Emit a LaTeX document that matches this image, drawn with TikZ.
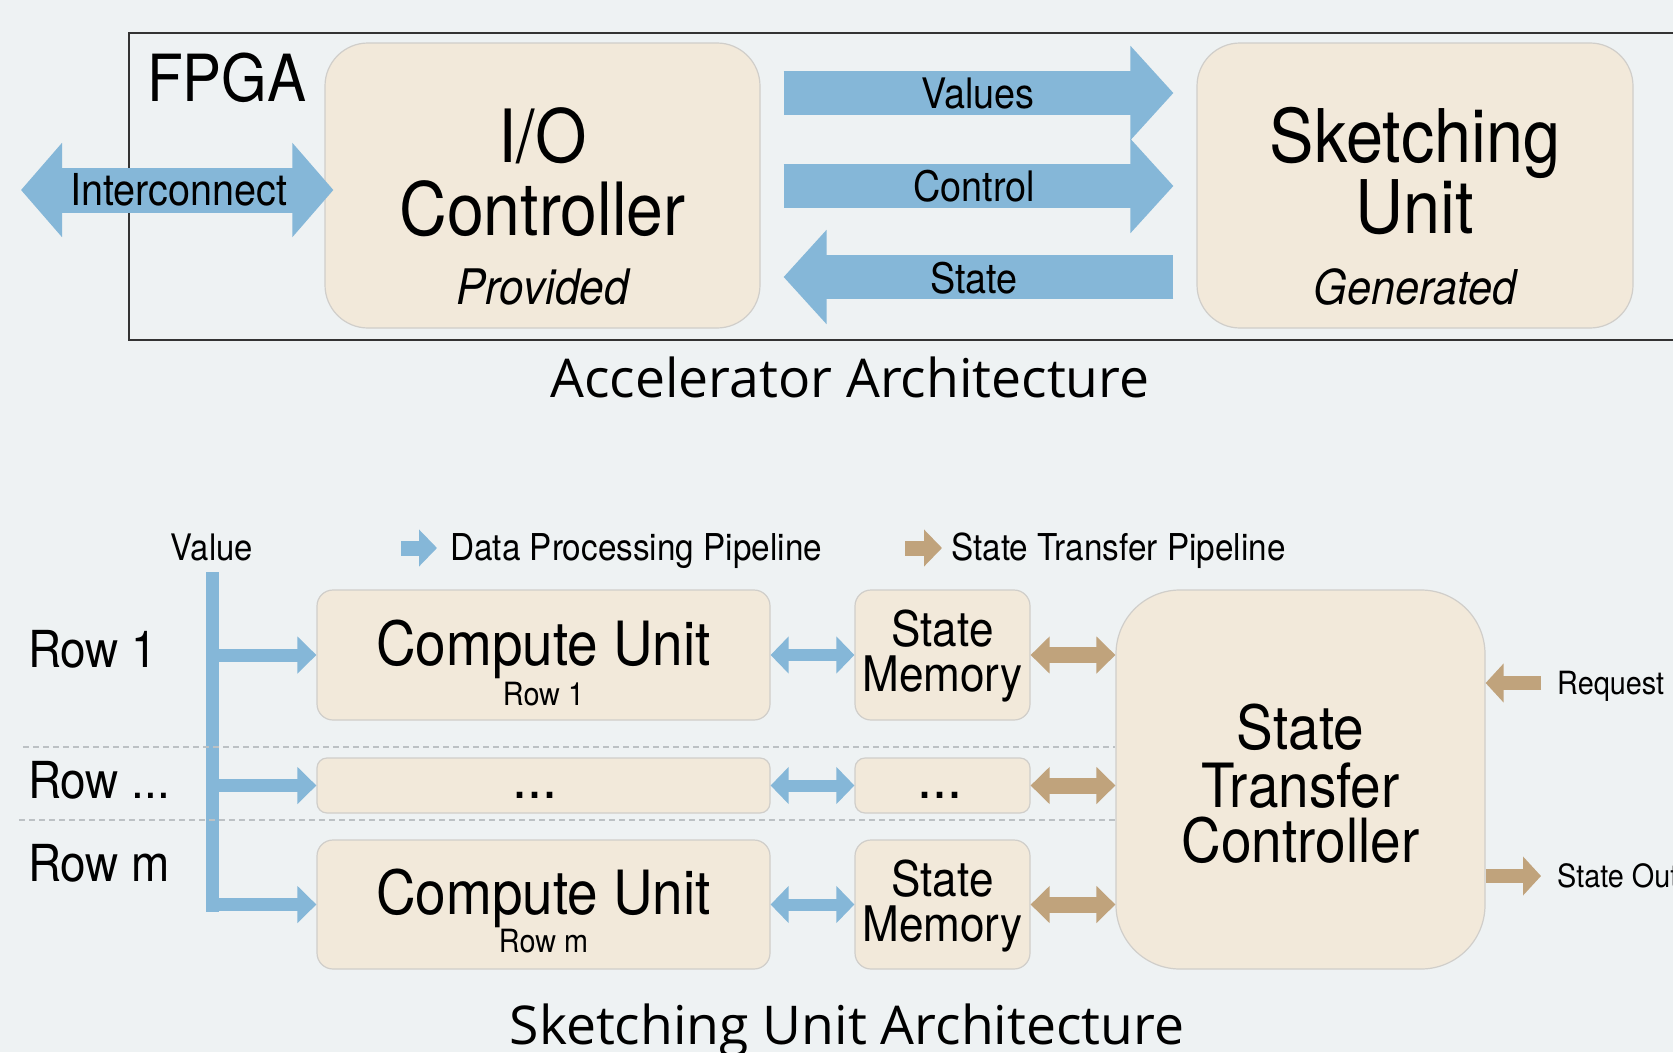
\documentclass[tikz,border=0pt]{standalone}
\usepackage{fontspec}
\setmainfont{TeX Gyre Heros}[FakeStretch=0.9]
\newfontfamily\titlefont{Open Sans}
\usetikzlibrary{arrows.meta,calc}
\definecolor{bg}{RGB}{238,242,243}
\definecolor{boxfill}{RGB}{242,233,218}
\definecolor{boxline}{RGB}{208,206,202}
\definecolor{pipeblue}{RGB}{133,183,216}
\definecolor{pipetan}{RGB}{192,163,124}
\definecolor{rowrule}{RGB}{188,193,196}
\newcommand{\setfs}[1]{\fontsize{#1}{#1}\selectfont}

\tikzset{
  unitbox/.style={draw=boxline, line width=1.2pt, fill=boxfill, inner sep=0pt},
  lbl/.style={anchor=base, inner sep=0pt},
  lblw/.style={anchor=base west, inner sep=0pt},
  bigflow/.style={pipeblue, line width=44pt, -{Triangle[length=43pt,width=92pt]}},
  bigflowboth/.style={pipeblue, line width=45pt, {Triangle[length=41pt,width=92pt]}-{Triangle[length=41pt,width=92pt]}},
  branch/.style={pipeblue, line width=13pt, -{Triangle[length=19pt,width=36pt]}},
  bluelink/.style={pipeblue, line width=12pt, {Triangle[length=18pt,width=36pt]}-{Triangle[length=18pt,width=36pt]}},
  tanlink/.style={pipetan, line width=16pt, {Triangle[length=19pt,width=36pt]}-{Triangle[length=19pt,width=36pt]}},
  tanflow/.style={pipetan, line width=14pt, -{Triangle[length=18pt,width=38pt]}},
  legendblue/.style={pipeblue, line width=15pt, -{Triangle[length=18pt,width=36pt]}},
  legendtan/.style={pipetan, line width=15pt, -{Triangle[length=18pt,width=36pt]}},
  rowsep/.style={rowrule, line width=1.5pt, dash pattern=on 6pt off 4pt},
}

\begin{document}
\begin{tikzpicture}[x=1pt,y=-1pt]
\useasboundingbox (0,0) rectangle (1673,1052);
\fill[bg] (0,0) rectangle (1673,1052);

% ---------------- accelerator level ----------------
\draw[line width=2pt, black!80] (129,33) rectangle (1720,340);
\node[lblw] (fpgalbl) at (147,101) {\setfs{65}FPGA};

\node[unitbox, rounded corners=43pt, minimum width=435pt, minimum height=285pt] (io) at (542.5,185.5) {};
\node[lbl] (iot1) at (542.5,162) {\setfs{73.5}I/O};
\node[lbl] (iot2) at (542.5,235) {\setfs{73.5}Controller};
\node[lbl] (iot3) at (542.5,304) {\setfs{49}\itshape Provided};

\node[unitbox, rounded corners=43pt, minimum width=436pt, minimum height=285pt] (su) at (1415,185.5) {};
\node[lbl] (sut1) at (1415,162) {\setfs{74}Sketching};
\node[lbl] (sut2) at (1415,233) {\setfs{74}Unit};
\node[lbl] (sut3) at (1415,304) {\setfs{48}\itshape Generated};

% host link
\coordinate (icl) at (21,190);
\draw[bigflowboth] (icl) -- ($(icl -| io.west)+(9,0)$);
\node[lbl] (iclbl) at (179,205) {\setfs{44}Interconnect};

% links between I/O controller and sketching unit
\draw[bigflow] ($(io.east)+(23,-92.5)$) -- ($(su.west)+(-23,-92.5)$);
\draw[bigflow] ($(io.east)+(23,0.5)$) -- ($(su.west)+(-23,0.5)$);
\draw[bigflow] ($(su.west)+(-23,91.5)$) -- ($(io.east)+(23,91.5)$);
\node[lbl] (vallbl) at (978,108) {\setfs{42}Values};
\node[lbl] (ctllbl) at (974,201.5) {\setfs{42}Control};
\node[lbl] (stlbl) at (974,293) {\setfs{42}State};

\node[lbl] (title1) at (850,397) {\titlefont\setfs{53.5}Accelerator Architecture};

% ---------------- sketching unit level ----------------
\node[lbl] (vallab) at (212,560) {\setfs{36.5}Value};
\coordinate (lgb) at (401,548);
\draw[legendblue] (lgb) -- ++(36,0);
\node[lblw] (lgbt) at (450,560) {\setfs{37}Data Processing Pipeline};
\coordinate (lgt) at (905,548);
\draw[legendtan] (lgt) -- ++(37,0);
\node[lblw] (lgtt) at (951,560) {\setfs{37}State Transfer Pipeline};

\node[unitbox, rounded corners=64pt, minimum width=369pt, minimum height=379pt] (stc) at (1300.5,779.5) {};
\coordinate (rs1) at (23,747);
\coordinate (rs2) at (19,820);

% row labels
\node[lblw] (row1) at (28,667) {\setfs{51}Row 1};
\node[lblw] (rowd) at (28,798) {\setfs{51}Row ...};
\node[lblw] (rowm) at (28,881) {\setfs{51}Row m};

% compute units
\node[unitbox, rounded corners=16pt, minimum width=453pt, minimum height=130pt] (cu1) at (543.5,655) {};
\node[unitbox, rounded corners=10pt, minimum width=453pt, minimum height=55pt] (cud) at (543.5,785.5) {};
\node[unitbox, rounded corners=16pt, minimum width=453pt, minimum height=129pt] (cum) at (543.5,904.5) {};
\node[lbl] (cu1a) at (543.5,665) {\setfs{61}Compute Unit};
\node[lbl] (cu1b) at (543.5,705) {\setfs{32}Row 1};
\node[lbl] (cuda) at (535,798) {\setfs{60}...};
\node[lbl] (cuma) at (543.5,914) {\setfs{61}Compute Unit};
\node[lbl] (cumb) at (543.5,952.5) {\setfs{32}Row m};

% state memories
\node[unitbox, rounded corners=16pt, minimum width=175pt, minimum height=130pt] (sm1) at (942.5,655) {};
\node[unitbox, rounded corners=10pt, minimum width=175pt, minimum height=55pt] (smd) at (942.5,785.5) {};
\node[unitbox, rounded corners=16pt, minimum width=175pt, minimum height=129pt] (smm) at (942.5,904.5) {};
\node[lbl] (sm1a) at (942.5,646.5) {\setfs{49}State};
\node[lbl] (sm1b) at (942.5,691.5) {\setfs{49}Memory};
\node[lbl] (smda) at (940,798) {\setfs{60}...};
\node[lbl] (smma) at (942.5,896) {\setfs{49}State};
\node[lbl] (smmb) at (942.5,941) {\setfs{49}Memory};

% state transfer controller
\node[lbl] (stca) at (1300.5,749) {\setfs{61}State};
\node[lbl] (stcb) at (1300.5,807) {\setfs{61}Transfer};
\node[lbl] (stcc) at (1300.5,862) {\setfs{61}Controller};

% value distribution bus
\coordinate (vtop) at (212.5,572);
\coordinate (vbot) at (212.5,911.5);
\draw[pipeblue, line width=13pt] (vtop) -- (vbot);
\draw[branch] (vtop |- cu1.west) -- (cu1.west);
\draw[branch] (vtop |- cud.west) -- (cud.west);
\draw[branch] (vtop |- cum.west) -- (cum.west);

% row separators
\draw[rowsep] (rs1) -- (rs1 -| stc.west);
\draw[rowsep] (rs2) -- (rs2 -| stc.west);

% compute unit <-> state memory
\draw[bluelink] (cu1.east) -- (sm1.west);
\draw[bluelink] (cud.east) -- (smd.west);
\draw[bluelink] (cum.east) -- (smm.west);

% state memory <-> controller
\draw[tanlink] (sm1.east) -- (sm1.east -| stc.west);
\draw[tanlink] (smd.east) -- (smd.east -| stc.west);
\draw[tanlink] (smm.east) -- (smm.east -| stc.west);

% controller ports
\coordinate (reqtail) at (1541,683);
\draw[tanflow] (reqtail) -- (reqtail -| stc.east);
\node[lblw] (reqlbl) at (1557,694) {\setfs{32}Request};
\coordinate (outhead) at (1541,876);
\draw[tanflow] (outhead -| stc.east) -- (outhead);
\node[lblw] (outlbl) at (1557,887) {\setfs{32}State Out};

\node[lbl] (title2) at (847,1044) {\titlefont\setfs{53.5}Sketching Unit Architecture};
\end{tikzpicture}
\end{document}
